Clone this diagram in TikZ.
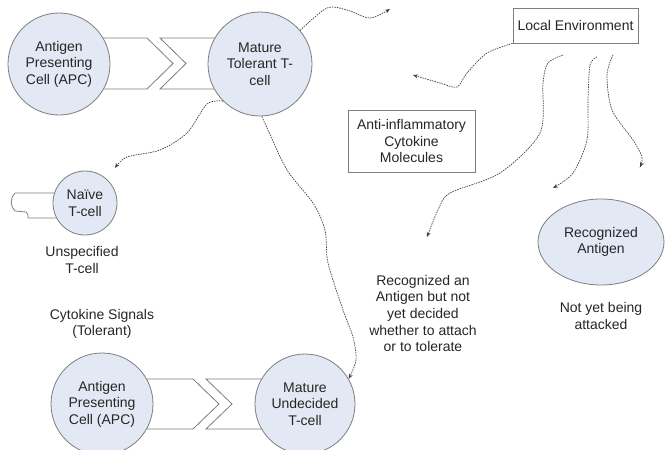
\documentclass[tikz,border=0pt]{standalone}
\usepackage{fontspec}
\setmainfont{Liberation Sans}
\usetikzlibrary{shapes.geometric, arrows.meta}
\definecolor{cellblue}{RGB}{227,233,244}
\definecolor{edgegray}{RGB}{125,125,125}

\begin{document}
\begin{tikzpicture}[x=1pt, y=-1pt,
        every node/.style={font=\fontsize{14}{16.6}\selectfont, text=black!85, align=center},
        cell/.style={circle, draw=edgegray, line width=0.8pt, fill=cellblue, minimum size=102pt, inner sep=0pt},
        smallcell/.style={circle, draw=edgegray, line width=0.8pt, fill=cellblue, minimum size=64pt, inner sep=0pt},
        antigen/.style={ellipse, draw=edgegray, line width=0.8pt, fill=cellblue, minimum width=126pt, minimum height=86pt, inner sep=0pt},
        labelbox/.style={rectangle, draw=edgegray, line width=0.8pt, fill=white, inner sep=0pt},
        synapse/.style={draw=edgegray, line width=0.8pt, fill=white},
        signal/.style={draw=black!75, line width=0.7pt, dash pattern=on 1.5pt off 1pt, -{Stealth[length=5pt, width=4pt]}}]

        \useasboundingbox (0,0) rectangle (665,450);

        % synapses (behind the cells)
        \draw[synapse] (100,38) -- (147,38) -- (173,63.5) -- (147,89) -- (100,89) -- cycle;
        \draw[synapse] (160,38) -- (232,38) -- (232,89) -- (160,89) -- (186,63.5) -- cycle;
        \draw[synapse] (130,379) -- (193,379) -- (219,404) -- (193,429) -- (130,429) -- cycle;
        \draw[synapse] (206,379) -- (275,379) -- (275,429) -- (206,429) -- (232,404) -- cycle;
        \draw[synapse] (60,193) -- (15,193) .. controls (10,197) and (10,207) .. (15,211) -- (26,212) .. controls (28,214) .. (28,218) -- (60,218);

        % cells
        \node[cell] (apc) at (59,64) {Antigen\\Presenting\\Cell (APC)};
        \node[cell, minimum size=104pt] (tolerant) at (260,64) {Mature\\Tolerant T-\\cell};
        \node[smallcell] (naive) at (85,203) {Naïve\\T-cell};
        \node[cell] (apc2) at (102,404) {Antigen\\Presenting\\Cell (APC)};
        \node[cell, minimum size=100pt] (undecided) at (305,404) {Mature\\Undecided\\T-cell};
        \node[antigen] (antigen) at (601,242) {Recognized\\Antigen};

        % boxes
        \node[labelbox, minimum width=125pt, minimum height=35pt] (env) at (575.5,25.5) {Local Environment};
        \node[labelbox, minimum width=127pt, minimum height=62pt] (cytokines) at (411.5,141) {Anti-inflammatory\\Cytokine\\Molecules};

        % captions
        \node (unspec) at (82,260) {Unspecified\\T-cell};
        \node (signals) at (102,324) {Cytokine Signals\\(Tolerant)};
        \node (pending) at (423,313.5) {Recognized an\\Antigen but not\\yet decided\\whether to attach\\or to tolerate};
        \node (unattacked) at (601,316) {Not yet being\\attacked};

        % free ends
        \coordinate (tolout) at (390,9);
        \coordinate (naivein) at (115,168);
        \coordinate (envout) at (413,75);
        \coordinate (envA) at (563,55);
        \coordinate (envB) at (597,57);
        \coordinate (envC) at (613,55);
        \coordinate (pendin) at (427,237);
        \coordinate (antin) at (553,188);
        \coordinate (antin2) at (640,167);

        % signals
        \draw[signal] plot[smooth] coordinates {(tolerant.40) (327,8) (347,10) (370,18) (tolout)};
        \draw[signal] plot[smooth] coordinates {(tolerant.225) (207,104) (187,133) (160,150) (127,157) (naivein)};
        \draw[signal] plot[smooth] coordinates {(tolerant.-88) (268,130) (287,170) (313,203) (325,230) (328,263) (343,310) (353,337) (356,360) (undecided.30)};
        \draw[signal] plot[smooth] coordinates {(env.south west) (487,53) (467,73) (457,87) (440,83) (envout)};
        \draw[signal] plot[smooth] coordinates {(envA) (548,63) (543,83) (540,133) (500,173) (450,193) (438,210) (pendin)};
        \draw[signal] plot[smooth] coordinates {(envB) (590,65) (588,100) (587,140) (573,173) (antin)};
        \draw[signal] plot[smooth] coordinates {(envC) (607,75) (612,110) (633,140) (642,157) (antin2)};
    \end{tikzpicture}
\end{document}
